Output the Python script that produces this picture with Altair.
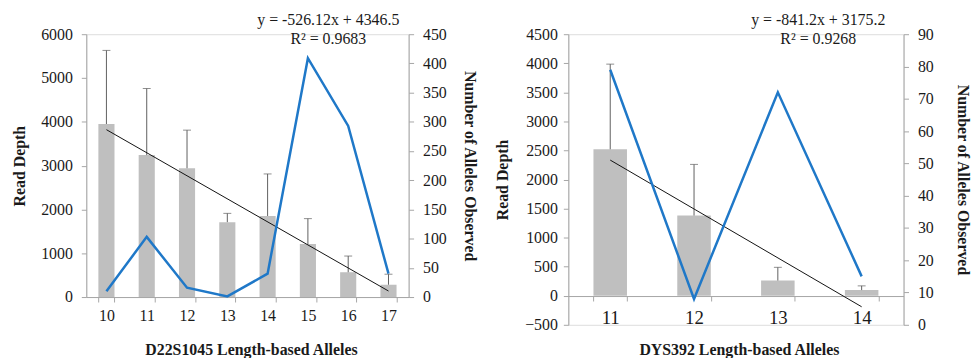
import altair as alt
import pandas as pd

# ---------------- data: left panel (D22S1045) ----------------
left_alleles = ["10", "11", "12", "13", "14", "15", "16", "17"]
left_read_depth = [3950, 3240, 2940, 1710, 1850, 1210, 566, 281]
left_read_depth_sd = [1680, 1520, 870, 200, 960, 580, 370, 240]
left_alleles_observed = [10, 103, 16, 1, 40, 409, 293, 40]
left_trend_slope = -526.12
left_trend_intercept = 4346.5
left_r2 = 0.9683
left_xtitle = "D22S1045 Length-based Alleles"
left_y_ticks = [0, 1000, 2000, 3000, 4000, 5000, 6000]
left_y2_ticks = [0, 50, 100, 150, 200, 250, 300, 350, 400, 450]

# ---------------- data: right panel (DYS392) ----------------
right_alleles = ["11", "12", "13", "14"]
right_read_depth = [2520, 1380, 261, 97]
right_read_depth_sd = [1465, 880, 228, 73]
right_alleles_observed = [79, 8, 72, 15]
right_trend_slope = -841.2
right_trend_intercept = 3175.2
right_r2 = 0.9268
right_xtitle = "DYS392 Length-based Alleles"
right_y_ticks = [-500, 0, 500, 1000, 1500, 2000, 2500, 3000, 3500, 4000, 4500]
right_y2_ticks = [0, 10, 20, 30, 40, 50, 60, 70, 80, 90]

FONT = "Liberation Serif"
AXIS_GRAY = "#a6a6a6"
TEXT = "#1a1a1a"


def panel(alleles, depth, sd, observed, slope, intercept, r2, xtitle,
          y_ticks, y2_ticks, width, height, x_offset, x_label_size,
          x_label_pad, y_label_pad, ytitle_x, y2title_x, xtitle_x, xtitle_y,
          eq_x):
    df = pd.DataFrame({
        "allele": alleles,
        "depth": depth,
        "upper": [d + s for d, s in zip(depth, sd)],
        "observed": observed,
    })
    n = len(alleles)
    trend = pd.DataFrame({
        "allele": [alleles[0], alleles[-1]],
        "y": [slope * 1 + intercept, slope * n + intercept],
    })
    eq_text = f"y = {slope}x + {intercept}"
    r2_text = f"R\u00b2 = {r2}"

    xscale = alt.Scale(domain=alleles, paddingInner=0.6, paddingOuter=0.3)
    x_axis = alt.Axis(
        title=xtitle, labelAngle=0, tickBand="extent", offset=x_offset,
        domainColor=AXIS_GRAY, tickColor=AXIS_GRAY, tickSize=5,
        labelFont=FONT, labelFontSize=x_label_size, labelColor=TEXT,
        labelPadding=x_label_pad, labelOverlap=False,
        titleFont=FONT, titleFontSize=16, titleFontWeight="bold", titleColor=TEXT,
        titleX=xtitle_x, titleY=xtitle_y, titleAlign="center",
        titleBaseline="middle", titleAnchor="start",
    )
    x = alt.X("allele:N", scale=xscale, axis=x_axis, sort=alleles)
    x_plain = alt.X("allele:N", scale=xscale, sort=alleles)

    yscale = alt.Scale(domain=[y_ticks[0], y_ticks[-1]], nice=False, zero=False)
    y_axis = alt.Axis(
        title="Read Depth", values=y_ticks, format="d", grid=False,
        domainColor=AXIS_GRAY, tickColor=AXIS_GRAY, tickSize=5,
        labelFont=FONT, labelFontSize=16, labelColor=TEXT, labelPadding=y_label_pad,
        labelOverlap=False, labelBound=False,
        titleFont=FONT, titleFontSize=16, titleFontWeight="bold", titleColor=TEXT,
        titleAngle=-90, titleX=ytitle_x, titleY=height / 2,
        titleAlign="center", titleBaseline="middle",
    )

    bars = alt.Chart(df).mark_bar(color="#bfbfbf").encode(
        x=x, y=alt.Y("depth:Q", scale=yscale, axis=y_axis)
    )
    err = alt.Chart(df).mark_rule(color="#5f5f5f", strokeWidth=1).encode(
        x=x_plain, y=alt.Y("depth:Q", scale=yscale, axis=y_axis), y2="upper:Q"
    )
    cap = alt.Chart(df).mark_tick(color="#5f5f5f", thickness=1, size=8,
                                  orient="horizontal").encode(
        x=x_plain, y=alt.Y("upper:Q", scale=yscale, axis=y_axis)
    )
    tr = alt.Chart(trend).mark_line(color="#111111", strokeWidth=1).encode(
        x=x_plain, y=alt.Y("y:Q", scale=yscale, axis=y_axis)
    )
    eq = alt.Chart(pd.DataFrame({"t": [eq_text]})).mark_text(
        font=FONT, fontSize=16, color=TEXT, align="center", baseline="middle"
    ).encode(x=alt.value(eq_x), y=alt.value(-14), text="t:N")
    r2t = alt.Chart(pd.DataFrame({"t": [r2_text]})).mark_text(
        font=FONT, fontSize=16, color=TEXT, align="center", baseline="middle"
    ).encode(x=alt.value(eq_x), y=alt.value(5), text="t:N")

    left_layer = alt.layer(bars, err, cap, tr, eq, r2t)

    y2_axis = alt.Axis(
        title="Number of Alleles Observed", orient="right", values=y2_ticks,
        format="d", grid=False,
        domainColor=AXIS_GRAY, tickColor=AXIS_GRAY, tickSize=5,
        labelFont=FONT, labelFontSize=16, labelColor=TEXT, labelPadding=9,
        labelOverlap=False,
        titleFont=FONT, titleFontSize=16, titleFontWeight="bold", titleColor=TEXT,
        titleAngle=90, titleX=y2title_x, titleY=height / 2,
        titleAlign="center", titleBaseline="middle",
    )
    blue = alt.Chart(df).mark_line(color="#1f78c8", strokeWidth=2.5).encode(
        x=x_plain,
        y=alt.Y("observed:Q",
                scale=alt.Scale(domain=[y2_ticks[0], y2_ticks[-1]], nice=False),
                axis=y2_axis),
    )
    return alt.layer(left_layer, blue).resolve_scale(y="independent").properties(
        width=width, height=height
    )


left = panel(left_alleles, left_read_depth, left_read_depth_sd,
             left_alleles_observed, left_trend_slope, left_trend_intercept,
             left_r2, left_xtitle, left_y_ticks, left_y2_ticks,
             width=325, height=265, x_offset=0, x_label_size=16,
             x_label_pad=6, y_label_pad=9, ytitle_x=-67, y2title_x=61,
             xtitle_x=166, xtitle_y=53, eq_x=244)

right = panel(right_alleles, right_read_depth, right_read_depth_sd,
              right_alleles_observed, right_trend_slope, right_trend_intercept,
              right_r2, right_xtitle, right_y_ticks, right_y2_ticks,
              width=338, height=293, x_offset=-29, x_label_size=19,
              x_label_pad=8, y_label_pad=6, ytitle_x=-66, y2title_x=59,
              xtitle_x=172, xtitle_y=54, eq_x=252)

chart = alt.hconcat(left, right, spacing=16).properties(
    padding={"left": 11, "top": 10, "right": 0, "bottom": 0}
).configure_view(stroke=None).configure_axis(
    labelOverlap=False
).configure(background="white", font=FONT)

chart.save("out.html", embed_options={"renderer": "svg", "actions": False})
